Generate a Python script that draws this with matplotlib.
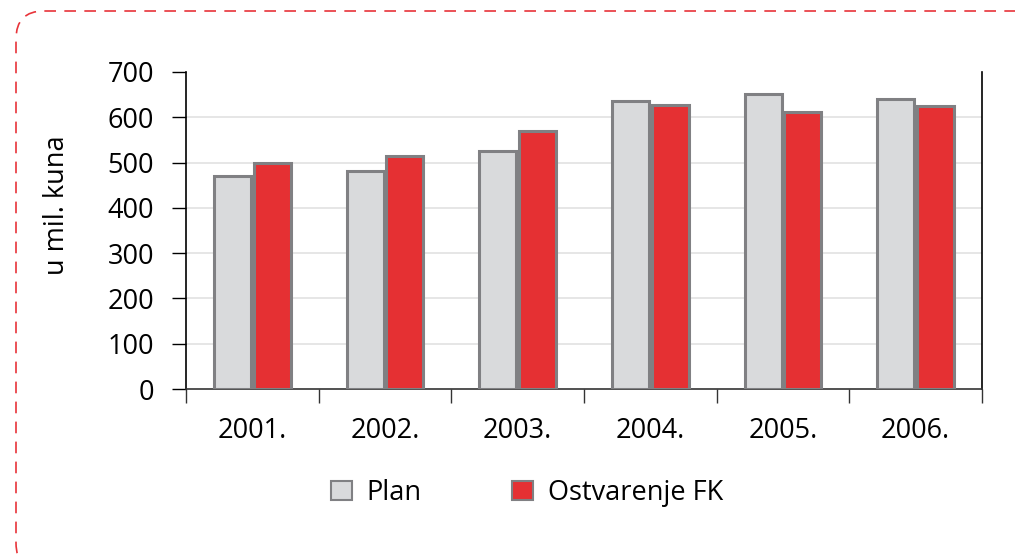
import matplotlib
matplotlib.use("Agg")
import matplotlib.pyplot as plt
import numpy as np
from matplotlib.patches import FancyBboxPatch, Patch
from matplotlib.transforms import IdentityTransform

# Data
years = ["2001.", "2002.", "2003.", "2004.", "2005.", "2006."]
plan = [470, 481, 525, 636, 652, 640]
ostvarenje = [498, 514, 569, 628, 612, 624]

plt.rcParams['font.family'] = ['Open Sans', 'DejaVu Sans']

grey_fill = '#d9dadc'
red_fill = '#e53033'
edge = '#808083'
fs = 19.5

fig = plt.figure(figsize=(10.15, 5.59), dpi=100)
ax = fig.add_axes([186 / 1015, 1 - 389 / 559, (982 - 186) / 1015, (389 - 72) / 559])

x = np.arange(len(years))
w = 0.28
ax.bar(x - 0.15, plan, w, color=grey_fill, edgecolor=edge, linewidth=2.2, zorder=3)
ax.bar(x + 0.15, ostvarenje, w, color=red_fill, edgecolor=edge, linewidth=2.2, zorder=3)

ax.set_xlim(-0.5, len(years) - 0.5)
ax.set_ylim(0, 700)
ax.set_yticks(range(0, 701, 100))
for v in range(100, 601, 100):
    ax.axhline(v, color='#e2e2e2', linewidth=1.2, zorder=1)

ax.set_xticks(x)
ax.set_xticklabels(years)
ax.set_xticks(np.arange(-0.5, len(years), 1), minor=True)
ax.tick_params(axis='x', which='major', length=0, pad=20, labelsize=fs)
ax.tick_params(axis='x', which='minor', length=10, width=1, direction='out', color='#333333')
ax.tick_params(axis='y', length=10, width=1, direction='out', pad=13, labelsize=fs)

ax.spines['top'].set_visible(False)
for s in ['left', 'right', 'bottom']:
    ax.spines[s].set_linewidth(1.2)
ax.spines['bottom'].set_color('#333333')

fig.text(57 / 1015, 1 - 205 / 559, 'u mil. kuna', rotation=90, fontsize=fs,
         ha='center', va='center')

handles = [Patch(facecolor=grey_fill, edgecolor=edge, linewidth=1.5, label='Plan'),
           Patch(facecolor=red_fill, edgecolor=edge, linewidth=1.5, label='Ostvarenje FK')]
fig.legend(handles=handles, loc='center', bbox_to_anchor=(527 / 1015, 1 - 493 / 559), ncol=2,
           frameon=False, fontsize=fs, handlelength=0.75, handleheight=0.75,
           handletextpad=0.55, columnspacing=3.35)

border = FancyBboxPatch((16, -12), 1040, 548 + 12,
                        boxstyle='round,pad=0,rounding_size=28',
                        transform=IdentityTransform(), fill=False,
                        edgecolor='#e8343a', linewidth=1.2, linestyle=(0, (7, 5)))
fig.patches.append(border)

fig.savefig('out.png', dpi=100)
